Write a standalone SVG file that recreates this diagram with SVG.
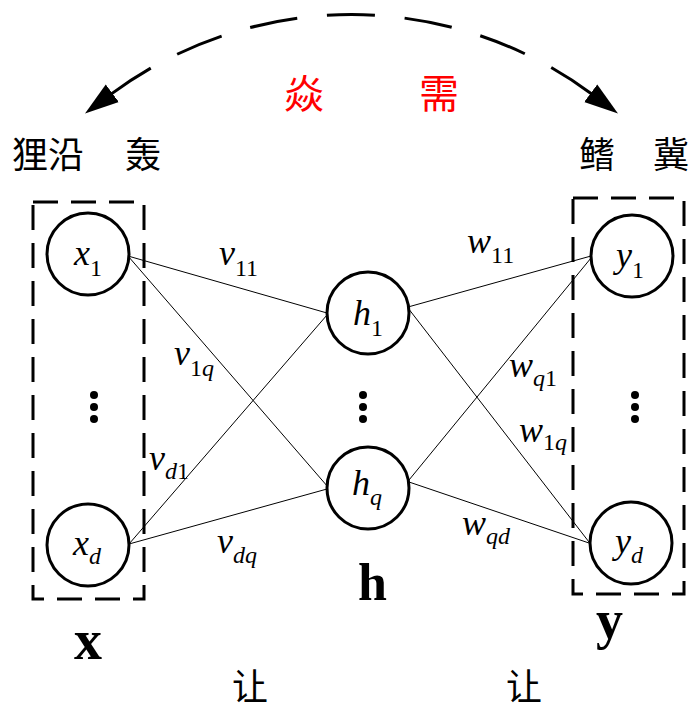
<svg xmlns="http://www.w3.org/2000/svg" width="693" height="711" viewBox="0 0 693 711">
<style>
.node{fill:#fff;stroke:#000;stroke-width:3}
.edge{stroke:#000;stroke-width:1;fill:none}
.box{fill:none;stroke:#000;stroke-width:3;stroke-dasharray:25 13}
.arc{fill:none;stroke:#000;stroke-width:3;stroke-dasharray:48 29.8}
.v{font-family:"Liberation Serif","Times New Roman",serif;font-style:italic;font-size:36px;fill:#000}
.s{font-size:24px;font-style:normal}
.si{font-size:24px;font-style:italic}
.b{font-family:"Liberation Serif","Times New Roman",serif;font-weight:bold;fill:#000}
.cn{font-family:"Noto Sans CJK SC","Noto Sans CJK JP",sans-serif;font-size:36px;fill:#000}
.red{fill:#f00;font-size:40px}
.dot{fill:#000}
</style>
<defs>
<marker id="ah" markerUnits="userSpaceOnUse" markerWidth="34" markerHeight="24" refX="2" refY="11" orient="auto-start-reverse" viewBox="0 0 34 22">
<path d="M0,0 L34,11 L0,22 z" fill="#000"/>
</marker>
</defs>

<g id="top-arc">
<path class="arc" d="M110.7,94.4 A403.3,403.3 0 0 1 592.3,94.4" marker-start="url(#ah)" marker-end="url(#ah)"/>
</g>

<g id="labels-cn">
<text class="cn"><tspan x="12" y="168">狸沿</tspan><tspan x="125" y="168">轰</tspan></text>
<text class="cn red"><tspan x="284" y="108">焱</tspan><tspan x="419" y="108">需</tspan></text>
<text class="cn"><tspan x="579" y="168">鳍</tspan><tspan x="653" y="168">冀</tspan></text>
<text class="cn" x="232" y="700">让</text>
<text class="cn" x="506" y="700">让</text>
</g>

<g id="boxes">
<rect class="box" x="33" y="202" width="111" height="397"/>
<rect class="box" x="573" y="198" width="111" height="396"/>
</g>

<g id="connectors">
<line class="edge" x1="128" y1="256" x2="327" y2="313"/>
<line class="edge" x1="128" y1="256" x2="328" y2="487"/>
<line class="edge" x1="129" y1="544" x2="327" y2="315"/>
<line class="edge" x1="129" y1="544" x2="327" y2="489"/>
<line class="edge" x1="408" y1="307" x2="591" y2="256"/>
<line class="edge" x1="408" y1="308" x2="589" y2="542"/>
<line class="edge" x1="409" y1="480" x2="591" y2="258"/>
<line class="edge" x1="409" y1="482" x2="589" y2="543"/>
</g>

<g id="x1"><circle class="node" cx="88" cy="254" r="41"/>
<text class="v" x="74" y="265">x<tspan class="s" dy="11">1</tspan></text></g>
<g id="xd"><circle class="node" cx="88" cy="545" r="41"/>
<text class="v" x="73" y="555">x<tspan class="si" dy="9">d</tspan></text></g>
<g id="h1"><circle class="node" cx="368" cy="313" r="41"/>
<text class="v" x="353" y="325">h<tspan class="s" dy="11">1</tspan></text></g>
<g id="hq"><circle class="node" cx="368" cy="488" r="41"/>
<text class="v" x="352" y="495">h<tspan class="si" dy="10">q</tspan></text></g>
<g id="y1"><circle class="node" cx="632" cy="256" r="41"/>
<text class="v" x="616" y="267">y<tspan class="s" dy="11">1</tspan></text></g>
<g id="yd"><circle class="node" cx="631" cy="543" r="41"/>
<text class="v" x="615" y="553">y<tspan class="si" dy="10">d</tspan></text></g>

<g id="ellipses">
<circle class="dot" cx="94" cy="395" r="4"/><circle class="dot" cx="94" cy="407" r="4"/><circle class="dot" cx="94" cy="419" r="4"/>
<circle class="dot" cx="363" cy="395" r="4"/><circle class="dot" cx="363" cy="407" r="4"/><circle class="dot" cx="363" cy="419" r="4"/>
<circle class="dot" cx="635" cy="395" r="4"/><circle class="dot" cx="635" cy="407" r="4"/><circle class="dot" cx="635" cy="419" r="4"/>
</g>

<g id="weights">
<text class="v" x="219" y="265">v<tspan class="s" dy="11">11</tspan></text>
<text class="v" x="174" y="365">v<tspan class="s" dy="11">1</tspan><tspan class="si">q</tspan></text>
<text class="v" x="149" y="470">v<tspan class="si" dy="9">d</tspan><tspan class="s">1</tspan></text>
<text class="v" x="217" y="553">v<tspan class="si" dy="10">dq</tspan></text>
<text class="v" x="467" y="253">w<tspan class="s" dy="10">11</tspan></text>
<text class="v" x="509" y="377">w<tspan class="si" dy="9">q</tspan><tspan class="s">1</tspan></text>
<text class="v" x="519" y="442">w<tspan class="s" dy="8">1</tspan><tspan class="si">q</tspan></text>
<text class="v" x="462" y="535">w<tspan class="si" dy="9">qd</tspan></text>
</g>

<g id="layer-labels">
<text class="b" x="74" y="659" font-size="56">x</text>
<text class="b" x="358" y="600" font-size="52">h</text>
<text class="b" x="596" y="638" font-size="54">y</text>
</g>
</svg>
